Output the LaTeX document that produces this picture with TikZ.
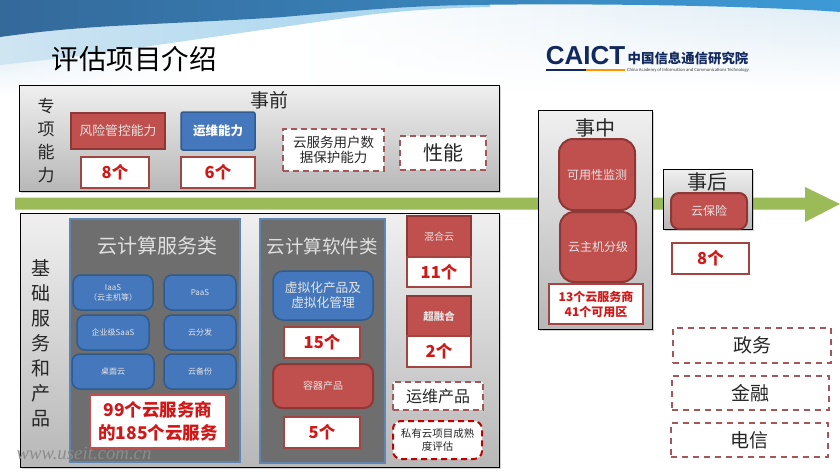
\documentclass[tikz,border=0pt]{standalone}
\usepackage{fontspec}
\setmainfont{Noto Sans CJK SC}
\newfontfamily\logofont{Liberation Sans}
\newfontfamily\latinfont{Carlito}
\newfontfamily\wmfont{Liberation Serif}
\usetikzlibrary{shadows,fadings}
\definecolor{boxred}{HTML}{C0504D}
\definecolor{edgered}{HTML}{8C3836}
\definecolor{boxblue}{HTML}{4477BB}
\definecolor{edgeblue}{HTML}{2F5B8E}
\definecolor{panelgray}{HTML}{6E6E6E}
\definecolor{paneledge}{HTML}{5F86B3}
\definecolor{dashred}{HTML}{A5565A}
\definecolor{countred}{HTML}{D01818}
\definecolor{arrowgreen}{HTML}{9BBB59}
\definecolor{logonavy}{HTML}{12295F}
\definecolor{swoopdark}{HTML}{34699A}
\definecolor{swoopblue}{HTML}{3D9AD6}
\definecolor{swooplight}{HTML}{A0D2EE}
\definecolor{swoopleft}{HTML}{CFE5F2}
\definecolor{swooppale}{HTML}{DCEBF5}
\begin{document}
\begin{tikzpicture}[
  x=1pt, y=-1pt,
  stage/.style={rectangle, draw=black, line width=1pt, top color=black!6, bottom color=black!28, drop shadow={shadow xshift=1.5pt, shadow yshift=-1.5pt, opacity=0.35}, inner sep=0pt},
  panel/.style={rectangle, draw=paneledge, line width=2pt, fill=panelgray, inner sep=0pt},
  redsq/.style={rectangle, draw=edgered, line width=1.5pt, fill=boxred, text=white!90!black, font=\fontsize{10}{14}\selectfont, inner sep=0pt},
  bluesq/.style={rectangle, rounded corners=2pt, draw=edgeblue, line width=1.5pt, fill=boxblue, text=white, font=\fontsize{12.5}{14}\selectfont\bfseries, inner sep=0pt},
  redrnd/.style={rectangle, rounded corners=9pt, draw=edgered, line width=2pt, fill=boxred, text=white!90!black, font=\fontsize{10}{14}\selectfont, inner sep=0pt},
  bluernd/.style={rectangle, rounded corners=8pt, draw=edgeblue, line width=1.5pt, fill=boxblue, text=white!90!black, font=\fontsize{8}{10}\selectfont, inner sep=0pt},
  count/.style={rectangle, draw=boxred!85!black, line width=1.3pt, fill=white, text=countred, font=\fontsize{16.5}{20}\selectfont\bfseries, inner sep=0pt},
  dashbox/.style={rectangle, draw=dashred, line width=1.3pt, dash pattern=on 6pt off 4pt, fill=white, inner sep=0pt},
  opt/.style={rectangle, draw=dashred, line width=1.3pt, dash pattern=on 6pt off 5pt, font=\fontsize{19}{22}\selectfont, inner sep=0pt},
  lbl/.style={inner sep=0pt, text=black!85, align=center}
]
\useasboundingbox (0,0) rectangle (840,472);
% Slide background
\fill[white] (0,0) rectangle (840,472);
\shade[left color=white, right color=swooppale, path fading=south] (300,0) rectangle (840,90);
\shade[left color=swooppale, right color=white, path fading=south] (0,40) rectangle (190,95);
\shade[left color=swoopleft, right color=swooplight] (0,30) -- (0,65) .. controls (90,56) and (230,34) .. (367,15) .. controls (400,11) and (440,8) .. (490,7) -- (490,0) -- (0,0) -- cycle;
\shade[left color=swoopdark, right color=swoopblue] (0,0) -- (0,37) .. controls (50,30) and (90,27) .. (133,25) .. controls (190,22) and (240,20) .. (283,17) .. controls (340,12) and (400,6) .. (470,5) .. controls (600,3) and (760,6) .. (840,12) -- (840,0) -- cycle;
% Title and logo
\node[lbl, text=black, font=\fontsize{27.5}{30}\selectfont] (title) at (134,59) {评估项目介绍};
\node[inner sep=0pt, text=logonavy, font=\logofont\fontsize{26}{26}\selectfont\bfseries] (caict) at (585.5,56) {CAICT};
\node[inner sep=0pt, text=logonavy, font=\fontsize{13.4}{15}\selectfont\bfseries] (caictcn) at (688,58) {中国信息通信研究院};
\node[inner sep=0pt, text=black!75, font=\latinfont\fontsize{4.7}{6}\selectfont] (caicten) at (688,70) {China Academy of Information and Communications Technology};
\fill[logonavy] (546,69) rectangle (586,71);
\fill[orange!85!yellow] (586,69) rectangle (625,71);
% Timeline
\fill[arrowgreen] (15,197.5) -- (805,197.5) -- (805,187) -- (840,204) -- (805,222) -- (805,209.5) -- (15,209.5) -- cycle;
% Before: special abilities
\node[stage, minimum width=480pt, minimum height=106pt] (before) at (259,138) {};
\node[lbl, font=\fontsize{17}{23}\selectfont] (speclbl) at (46,141) {专\\项\\能\\力};
\node[lbl, font=\fontsize{19}{20}\selectfont] (beforelbl) at (269,100) {事前};
\node[redsq, font=\fontsize{12.8}{14}\selectfont, minimum width=94pt, minimum height=36pt] (risk) at (118,131) {风险管控能力};
\node[bluesq, minimum width=74pt, minimum height=38pt] (ops) at (218,131) {运维能力};
\node[count, minimum width=68pt, minimum height=31pt] (riskcount) at (115,172.5) {8个};
\node[count, minimum width=74pt, minimum height=31pt] (opscount) at (218,172.5) {6个};
\node[dashbox, lbl, font=\fontsize{13.5}{15.5}\selectfont, minimum width=101pt, minimum height=42pt] (userdata) at (333.5,150) {云服务用户数\\据保护能力};
\node[dashbox, lbl, font=\fontsize{20}{22}\selectfont, minimum width=86pt, minimum height=34pt] (perf) at (443,153) {性能};
% Base services and products
\node[stage, minimum width=479pt, minimum height=254pt] (base) at (259.5,340) {};
\node[lbl, font=\fontsize{19}{25}\selectfont] (baselbl) at (41,343) {基\\础\\服\\务\\和\\产\\品};
% Cloud service panel
\node[panel, minimum width=170pt, minimum height=243pt] (svcpanel) at (155,340.5) {};
\node[lbl, text=white!88!black, font=\fontsize{20}{24}\selectfont] (svclbl) at (157,246) {云计算服务类};
\node[bluernd, minimum width=80pt, minimum height=35pt, align=center] (iaas) at (113,292.5) {IaaS\\（云主机等）};
\node[bluernd, minimum width=72pt, minimum height=35pt] (paas) at (200,292.5) {PaaS};
\node[bluernd, minimum width=72pt, minimum height=35pt] (saas) at (113,332.5) {企业级SaaS};
\node[bluernd, minimum width=72pt, minimum height=35pt] (cdn) at (200,332.5) {云分发};
\node[bluernd, minimum width=82pt, minimum height=35pt] (desktop) at (113,371.5) {桌面云};
\node[bluernd, minimum width=72pt, minimum height=35pt] (backup) at (200,371.5) {云备份};
\node[count, draw=boxred, align=center, font=\fontsize{17.5}{22.5}\selectfont\bfseries, minimum width=136pt, minimum height=53pt] (svccount) at (158,421.5) {99个云服务商\\的185个云服务};
% Cloud software panel
\node[panel, minimum width=125pt, minimum height=244pt] (softpanel) at (322.5,341) {};
\node[lbl, text=white!88!black, font=\fontsize{18.5}{22}\selectfont] (softlbl) at (322,246) {云计算软件类};
\node[bluernd, font=\fontsize{12.7}{15}\selectfont, align=center, rounded corners=10pt, minimum width=100pt, minimum height=49pt] (virt) at (323,295.5) {虚拟化产品及\\虚拟化管理};
\node[count, minimum width=76pt, minimum height=31pt] (virtcount) at (322,342.5) {15个};
\node[redrnd, minimum width=100pt, minimum height=44pt] (container) at (323,386) {容器产品};
\node[count, minimum width=76pt, minimum height=31pt] (containercount) at (322,432.5) {5个};
% Hybrid and converged
\node[redsq, minimum width=64pt, minimum height=41pt] (hybrid) at (439,236.5) {混合云};
\node[count, minimum width=64pt, minimum height=30pt] (hybridcount) at (439,272) {11个};
\node[redsq, font=\fontsize{10.5}{14}\selectfont\bfseries, minimum width=64pt, minimum height=40pt] (hci) at (439,316) {超融合};
\node[count, minimum width=64pt, minimum height=31pt] (hcicount) at (439,351.5) {2个};
\node[dashbox, lbl, font=\fontsize{16}{18}\selectfont, minimum width=90pt, minimum height=28pt] (opsprod) at (438,396) {运维产品};
\node[dashbox, lbl, draw=red!75!black, line width=2pt, rounded corners=8pt, font=\fontsize{10.5}{13.5}\selectfont, minimum width=89pt, minimum height=38pt] (private) at (437.5,440) {私有云项目成熟\\度评估};
% During
\node[stage, minimum width=114pt, minimum height=219pt] (during) at (595,219.5) {};
\node[lbl, font=\fontsize{20}{22}\selectfont] (duringlbl) at (595,128) {事中};
\node[redrnd, rounded corners=14pt, font=\fontsize{12}{14}\selectfont, minimum width=76pt, minimum height=71pt] (monitor) at (597,174.5) {可用性监测};
\node[redrnd, rounded corners=14pt, font=\fontsize{12}{14}\selectfont, minimum width=76pt, minimum height=70pt] (grade) at (598,247) {云主机分级};
\node[count, align=center, font=\fontsize{12}{15}\selectfont\bfseries, minimum width=94pt, minimum height=40pt] (duringcount) at (596,304) {13个云服务商\\41个可用区};
% After
\node[stage, minimum width=89pt, minimum height=60pt] (after) at (707.5,199) {};
\node[lbl, font=\fontsize{20}{22}\selectfont] (afterlbl) at (707,182) {事后};
\node[redrnd, rounded corners=8pt, font=\fontsize{12}{14}\selectfont, minimum width=76pt, minimum height=36pt] (insurance) at (709,211) {云保险};
\node[count, minimum width=77pt, minimum height=31pt] (aftercount) at (710.5,258.5) {8个};
% Sectors
\node[opt, lbl, minimum width=158pt, minimum height=35pt] (gov) at (752,345.5) {政务};
\node[opt, lbl, minimum width=157pt, minimum height=34pt] (fin) at (750.5,393) {金融};
\node[opt, lbl, minimum width=157pt, minimum height=34pt] (tel) at (749.5,440) {电信};
% Watermark
\node[inner sep=0pt, text=black!45, font=\wmfont\fontsize{18.8}{20}\selectfont\itshape] (mark) at (84,453) {www.useit.com.cn};
\end{tikzpicture}
\end{document}
